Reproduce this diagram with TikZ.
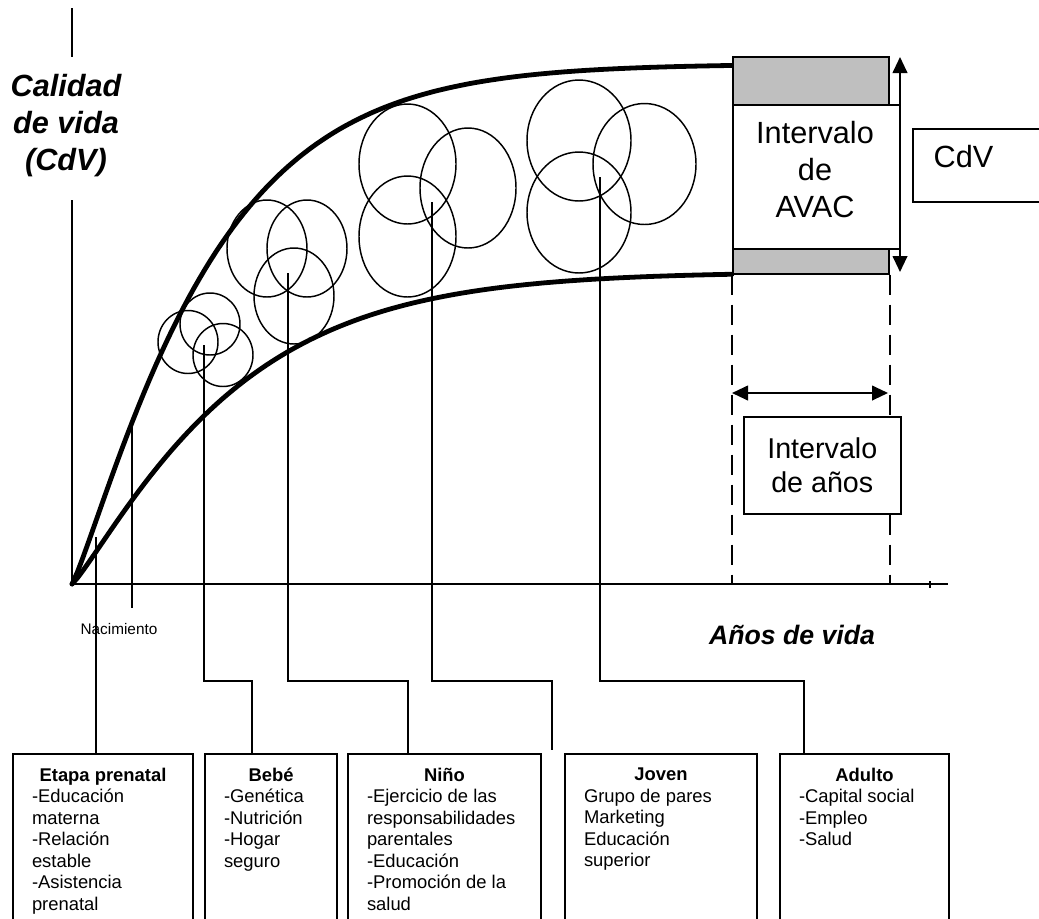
\documentclass[tikz,border=0pt]{standalone}
\usepackage{fontspec}
\setmainfont{Liberation Sans}
\usetikzlibrary{arrows.meta}
\tikzset{
  curve/.style={line width=3.6pt, line join=round, line cap=round},
  axis/.style={line width=1.5pt},
  conn/.style={line width=1.5pt},
  ring/.style={line width=1.1pt},
  stage/.style={draw, line width=1.5pt, anchor=north west, inner xsep=14.25pt, inner ysep=10.5pt, font=\fontsize{13.8}{16.1}\selectfont},
  graybar/.style={draw, line width=1.2pt, fill=black!25},
  dashv/.style={line width=1.5pt, dash pattern=on 15pt off 7.5pt},
  dbl/.style={line width=1.5pt, {Triangle[length=12pt,width=11pt]}-{Triangle[length=12pt,width=11pt]}},
  plainbox/.style={draw, line width=1.2pt, fill=white},
}
\newcommand\myring[3]{\draw[ring] (#1) ellipse [x radius={#2*0.75pt}, y radius={#3*0.75pt}];}
\begin{document}
\begin{tikzpicture}[x=0.75pt,y=-0.75pt]
\useasboundingbox (0,0) rectangle (1039,918);

% axes
\coordinate (O) at (72,584);
\coordinate (ytopA) at (72,8);
\coordinate (ytopB) at (72,57);
\coordinate (ylow) at (72,200);
\coordinate (xend) at (948,584);

% quality of life curves
\draw[curve] (O) -- plot[domain=0.05:660, samples=120] ({72+\x}, {64+520*exp(-0.00335*(\x)^1.15)});
\draw[curve] (O) -- plot[domain=0.05:660, samples=120] ({72+\x}, {272+312*exp(-0.00283*(\x)^1.15)});

\draw[axis] (ytopA) -- (ytopB);
\draw[axis] (ylow) -- (O) -- (xend);
\coordinate (tickA) at (930,581);
\coordinate (tickB) at (930,588);
\draw[line width=0.8pt] (tickA) -- (tickB);

\node[font=\fontsize{23}{27.75}\selectfont\bfseries\itshape, align=center] (ylabel) at (66,126) {Calidad\\de vida\\(CdV)};
\node[font=\fontsize{20}{24}\selectfont\bfseries\itshape] (xlabel) at (792,635) {Años de vida};
\node[font=\fontsize{11.5}{13}\selectfont] (nac) at (119,629) {Nacimiento};

% birth marker
\coordinate (nacA) at (132,423);
\coordinate (nacB) at (132,608);
\draw[conn] (nacA) -- (nacB);

% circle clusters
\myring{188,342}{30}{31.5}
\myring{210,324}{30}{31}
\myring{223,355}{30}{31.5}
\myring{267,248.5}{40}{48.5}
\myring{307,248.5}{40}{48.5}
\myring{294,296}{40}{48}
\myring{407.5,164}{48.5}{60}
\myring{468,188}{48}{60}
\myring{407.5,236.5}{48.5}{60.5}
\myring{579,140.5}{52}{60.5}
\myring{644.5,164}{51.5}{60.5}
\myring{579,212.5}{52}{60.5}

% AVAC interval
\node[graybar, anchor=north west, minimum width=117pt, minimum height=36pt] (gtop) at (732,56) {};
\node[graybar, anchor=north west, minimum width=117pt, minimum height=18.75pt] (gbot) at (732,248) {};
\node[plainbox, anchor=north west, minimum width=125.25pt, minimum height=108pt] (avac) at (732,104) {};
\node[font=\fontsize{23}{27.75}\selectfont, align=center] (avactext) at (815,170) {Intervalo\\de\\AVAC};
\coordinate (arrT) at (900,57);
\coordinate (arrB) at (900,272);
\draw[dbl] (arrT) -- (arrB);
\node[draw, line width=1.2pt, anchor=north west, minimum width=105pt, minimum height=54.75pt] (cdvbox) at (912,128) {};
\node[font=\fontsize{23}{27}\selectfont, anchor=base west] (cdvtext) at (929,167) {CdV};

% years interval
\draw[dashv] (gbot.south west) -- (gbot.south west |- O);
\draw[dashv] (gbot.south east) -- (gbot.south east |- O);
\coordinate (hA) at (732,393);
\coordinate (hB) at (888,393);
\draw[dbl] (hA) -- (hB);
\node[plainbox, anchor=north west, minimum width=117.75pt, minimum height=72.75pt, align=center, font=\fontsize{21.5}{25.5}\selectfont] (anos) at (743,416) {Intervalo\\de años};

% stage boxes
\node[stage] (etapa) at (12,753) {\parbox[t][150pt][t]{106.5pt}{\centering\textbf{Etapa prenatal}\par\raggedright -Educación\\materna\\-Relación\\estable\\-Asistencia\\prenatal}};
\node[stage] (bebe) at (204,753) {\parbox[t][150pt][t]{70.5pt}{\centering\textbf{Bebé}\par\raggedright -Genética\\-Nutrición\\-Hogar\\seguro}};
\node[stage] (nino) at (347,753) {\parbox[t][150pt][t]{116.25pt}{\centering\textbf{Niño}\par\raggedright -Ejercicio de las\\responsabilidades\\parentales\\-Educación\\-Promoción de la\\salud}};
\node[stage] (joven) at (564,753) {\parbox[t][150pt][t]{115.5pt}{\centering\textbf{Joven}\par\raggedright Grupo de pares\\Marketing\\Educación\\superior}};
\node[stage] (adulto) at (779,753) {\parbox[t][150pt][t]{98.25pt}{\centering\textbf{Adulto}\par\raggedright -Capital social\\-Empleo\\-Salud}};

% connectors
\coordinate (c1) at (96,537);
\draw[conn] (c1) -- (c1 |- etapa.north);
\coordinate (c2) at (204,345);
\coordinate (c2b) at (252,681);
\draw[conn] (c2) |- (c2b) -- (c2b |- bebe.north);
\coordinate (c3) at (288,273);
\coordinate (c3b) at (408,681);
\draw[conn] (c3) |- (c3b) -- (c3b |- nino.north);
\coordinate (c4) at (432,202);
\coordinate (c4b) at (552,681);
\coordinate (c4e) at (552,750);
\draw[conn] (c4) |- (c4b) -- (c4e);
\coordinate (c5) at (600,177);
\coordinate (c5b) at (804,681);
\draw[conn] (c5) |- (c5b) -- (c5b |- adulto.north);
\end{tikzpicture}
\end{document}
